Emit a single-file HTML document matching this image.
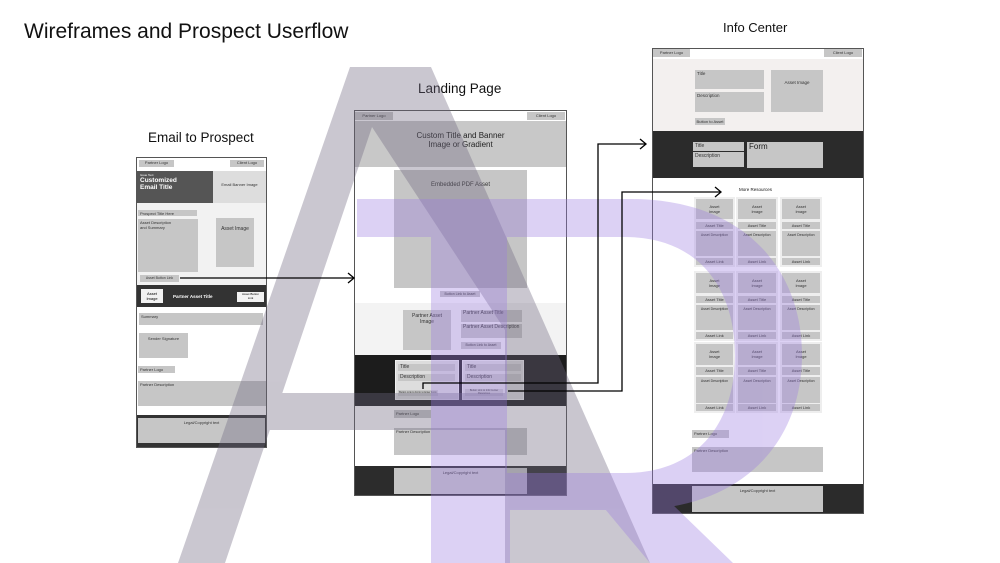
<!DOCTYPE html>
<html><head><meta charset="utf-8"><style>
*{margin:0;padding:0;box-sizing:border-box}
body{width:1000px;height:563px;background:#fff;position:relative;overflow:hidden;font-family:"Liberation Sans",sans-serif}
.a{position:absolute}
.b{position:absolute;background:#c6c6c6;font-size:4px;color:#333;line-height:5px;overflow:hidden}
.c{text-align:center}
.p{padding:1px 2px}
.t{position:absolute;color:#111;white-space:nowrap}
</style></head><body>
<div class="t" style="left:24px;top:20px;font-size:21px">Wireframes and Prospect Userflow</div>
<div class="t" style="left:148px;top:130px;font-size:13.5px">Email to Prospect</div>
<div class="t" style="left:418px;top:81px;font-size:13.5px">Landing Page</div>
<div class="t" style="left:723px;top:20px;font-size:13px">Info Center</div>

<!-- EMAIL -->
<div class="a" style="left:136px;top:157px;width:131px;height:291px;border:1px solid #555;background:#fff"></div>
<div class="b c" style="left:139px;top:160px;width:35px;height:7px">Partner Logo</div>
<div class="b c" style="left:230px;top:160px;width:34px;height:7px">Client Logo</div>
<div class="a" style="left:137px;top:171px;width:76px;height:32px;background:#555;color:#fff;padding:2px 3px"><div style="font-size:3px">Issue Text</div><div style="font-size:6.5px;font-weight:bold;line-height:7px">Customized<br>Email Title</div></div>
<div class="a c" style="left:213px;top:171px;width:53px;height:32px;background:#ddd;font-size:4px;line-height:28px;color:#333">Email Banner Image</div>
<div class="a" style="left:137px;top:203px;width:129px;height:82px;background:#f2f2f2"></div>
<div class="b p" style="left:138px;top:210px;width:59px;height:6px">Prospect Title Here</div>
<div class="b p" style="left:138px;top:219px;width:60px;height:53px">Asset Description<br>and Summary</div>
<div class="b c" style="left:216px;top:218px;width:38px;height:49px;font-size:5px;line-height:22px">Asset Image</div>
<div class="b c" style="left:140px;top:275px;width:39px;height:7px;font-size:3.5px;line-height:7px">Asset Button Link</div>
<div class="a" style="left:137px;top:285px;width:129px;height:22px;background:#333"></div>
<div class="a c" style="left:141px;top:289px;width:22px;height:14px;background:#f2f2f2;font-size:4px;line-height:5px;padding-top:2px">Asset<br>Image</div>
<div class="t" style="left:173px;top:294px;font-size:4.5px;color:#fff;font-weight:bold">Partner Asset Title</div>
<div class="a c" style="left:237px;top:292px;width:27px;height:10px;background:#f2f2f2;font-size:3px;line-height:3.5px;padding-top:1px">Asset Button<br>Link</div>
<div class="b p" style="left:139px;top:313px;width:124px;height:12px">Summary</div>
<div class="b c" style="left:139px;top:333px;width:49px;height:25px;padding-top:3px">Sender Signature</div>
<div class="b p" style="left:138px;top:366px;width:37px;height:7px">Partner Logo</div>
<div class="b p" style="left:138px;top:381px;width:128px;height:25px">Partner Description</div>
<div class="a" style="left:137px;top:415px;width:129px;height:32px;background:#333"></div>
<div class="b c" style="left:138px;top:418px;width:127px;height:25px;padding-top:2px">Legal/Copyright text</div>

<!-- LANDING -->
<div class="a" style="left:354px;top:110px;width:213px;height:386px;border:1px solid #555;background:#fff"></div>
<div class="b c" style="left:355px;top:112px;width:38px;height:8px;line-height:8px">Partner Logo</div>
<div class="b c" style="left:527px;top:112px;width:38px;height:8px;line-height:8px">Client Logo</div>
<div class="a c" style="left:355px;top:121px;width:211px;height:46px;background:#c8c8c8;font-size:8px;line-height:9px;padding-top:10px;color:#222">Custom Title and Banner<br>Image or Gradient</div>
<div class="b c" style="left:394px;top:170px;width:133px;height:118px;font-size:6px;line-height:6px;padding-top:12px">Embedded PDF Asset</div>
<div class="b c" style="left:440px;top:291px;width:40px;height:6px;font-size:3.5px;line-height:6px">Button Link to Asset</div>
<div class="a" style="left:355px;top:303px;width:211px;height:52px;background:#f3f3f3"></div>
<div class="b c" style="left:403px;top:310px;width:48px;height:40px;font-size:5px;line-height:6px;padding-top:3px">Partner Asset<br>Image</div>
<div class="b p" style="left:461px;top:310px;width:61px;height:12px;font-size:5px">Partner Asset Title</div>
<div class="b p" style="left:461px;top:324px;width:61px;height:14px;font-size:5px">Partner Asset Description</div>
<div class="b c" style="left:461px;top:342px;width:40px;height:7px;font-size:3.5px;line-height:7px">Button Link to Asset</div>
<div class="a" style="left:355px;top:355px;width:211px;height:51px;background:#1c1c1c"></div>
<div class="a" style="left:395px;top:360px;width:64px;height:40px;background:#ddd;border:1px solid #f0f0f0"></div>
<div class="a" style="left:462px;top:360px;width:62px;height:40px;background:#ddd;border:1px solid #f0f0f0"></div>
<div class="b p" style="left:398px;top:364px;width:57px;height:7px;font-size:5px;line-height:5px">Title</div>
<div class="b p" style="left:398px;top:374px;width:57px;height:7px;font-size:5px;line-height:5px">Description</div>
<div class="b c" style="left:398px;top:390px;width:40px;height:6px;font-size:2.5px;line-height:6px">Button Link to Form to Enter Form</div>
<div class="b p" style="left:465px;top:364px;width:56px;height:7px;font-size:5px;line-height:5px">Title</div>
<div class="b p" style="left:465px;top:374px;width:56px;height:7px;font-size:5px;line-height:5px">Description</div>
<div class="b c" style="left:465px;top:389px;width:38px;height:7px;font-size:2.5px;line-height:3px">Button Link to Info Center<br>Resources</div>
<div class="b p" style="left:394px;top:410px;width:37px;height:8px">Partner Logo</div>
<div class="b p" style="left:394px;top:428px;width:133px;height:27px">Partner Description</div>
<div class="a" style="left:355px;top:466px;width:211px;height:29px;background:#2c2c2c"></div>
<div class="b c" style="left:394px;top:468px;width:133px;height:26px;padding-top:2px">Legal/Copyright text</div>

<!-- INFO CENTER -->
<div class="a" style="left:652px;top:48px;width:212px;height:466px;border:1px solid #555;background:#fff"></div>
<div class="b c" style="left:653px;top:49px;width:37px;height:8px;line-height:8px">Partner Logo</div>
<div class="b c" style="left:824px;top:49px;width:38px;height:8px;line-height:8px">Client Logo</div>
<div class="a" style="left:653px;top:59px;width:210px;height:72px;background:#f3f0ef"></div>
<div class="b p" style="left:695px;top:70px;width:69px;height:19px;font-size:4.5px">Title</div>
<div class="b p" style="left:695px;top:92px;width:69px;height:20px;font-size:4.5px">Description</div>
<div class="b c" style="left:771px;top:70px;width:52px;height:42px;font-size:4.5px;padding-top:10px">Asset Image</div>
<div class="b c" style="left:695px;top:118px;width:30px;height:7px;line-height:7px">Button to Asset</div>
<div class="a" style="left:653px;top:131px;width:210px;height:47px;background:#2b2b2b"></div>
<div class="b p" style="left:693px;top:142px;width:51px;height:9px;font-size:5px;line-height:6px">Title</div>
<div class="b p" style="left:693px;top:152px;width:51px;height:15px;font-size:5px;line-height:6px">Description</div>
<div class="b p" style="left:747px;top:142px;width:76px;height:26px;font-size:8px;line-height:8px;color:#222">Form</div>
<div class="t" style="left:739px;top:187px;font-size:4.5px">More Resources</div>
<div class="b p" style="left:692px;top:430px;width:37px;height:8px">Partner Logo</div>
<div class="b p" style="left:692px;top:447px;width:131px;height:25px">Partner Description</div>
<div class="a" style="left:653px;top:484px;width:210px;height:29px;background:#2b2b2b"></div>
<div class="b c" style="left:692px;top:486px;width:131px;height:26px;padding-top:2px">Legal/Copyright text</div>

<!-- grid cards -->
<div class="a" style="left:694px;top:197px;width:41px;height:70px;background:#eee"></div>
<div class="a" style="left:736px;top:197px;width:42px;height:70px;background:#eee"></div>
<div class="a" style="left:780px;top:197px;width:42px;height:70px;background:#eee"></div>
<div class="a" style="left:694px;top:271px;width:41px;height:70px;background:#eee"></div>
<div class="a" style="left:736px;top:271px;width:42px;height:70px;background:#eee"></div>
<div class="a" style="left:780px;top:271px;width:42px;height:70px;background:#eee"></div>
<div class="a" style="left:694px;top:342px;width:41px;height:71px;background:#eee"></div>
<div class="a" style="left:736px;top:342px;width:42px;height:71px;background:#eee"></div>
<div class="a" style="left:780px;top:342px;width:42px;height:71px;background:#eee"></div>

<div class="b c" style="left:696px;top:199px;width:37px;height:20px;padding-top:5px">Asset<br>Image</div>
<div class="b c" style="left:738px;top:199px;width:38px;height:20px;padding-top:5px">Asset<br>Image</div>
<div class="b c" style="left:782px;top:199px;width:38px;height:20px;padding-top:5px">Asset<br>Image</div>
<div class="b c" style="left:696px;top:222px;width:37px;height:7px;line-height:7px">Asset Title</div>
<div class="b c" style="left:738px;top:222px;width:38px;height:7px;line-height:7px">Asset Title</div>
<div class="b c" style="left:782px;top:222px;width:38px;height:7px;line-height:7px">Asset Title</div>
<div class="b c" style="left:696px;top:231px;width:37px;height:25px;padding-top:2px;font-size:3.5px">Asset Description</div>
<div class="b c" style="left:738px;top:231px;width:38px;height:25px;padding-top:2px;font-size:3.5px">Asset Description</div>
<div class="b c" style="left:782px;top:231px;width:38px;height:25px;padding-top:2px;font-size:3.5px">Asset Description</div>
<div class="b c" style="left:696px;top:258px;width:37px;height:7px;line-height:7px">Asset Link</div>
<div class="b c" style="left:738px;top:258px;width:38px;height:7px;line-height:7px">Asset Link</div>
<div class="b c" style="left:782px;top:258px;width:38px;height:7px;line-height:7px">Asset Link</div>

<div class="b c" style="left:696px;top:273px;width:37px;height:20px;padding-top:5px">Asset<br>Image</div>
<div class="b c" style="left:738px;top:273px;width:38px;height:20px;padding-top:5px">Asset<br>Image</div>
<div class="b c" style="left:782px;top:273px;width:38px;height:20px;padding-top:5px">Asset<br>Image</div>
<div class="b c" style="left:696px;top:296px;width:37px;height:7px;line-height:7px">Asset Title</div>
<div class="b c" style="left:738px;top:296px;width:38px;height:7px;line-height:7px">Asset Title</div>
<div class="b c" style="left:782px;top:296px;width:38px;height:7px;line-height:7px">Asset Title</div>
<div class="b c" style="left:696px;top:305px;width:37px;height:25px;padding-top:2px;font-size:3.5px">Asset Description</div>
<div class="b c" style="left:738px;top:305px;width:38px;height:25px;padding-top:2px;font-size:3.5px">Asset Description</div>
<div class="b c" style="left:782px;top:305px;width:38px;height:25px;padding-top:2px;font-size:3.5px">Asset Description</div>
<div class="b c" style="left:696px;top:332px;width:37px;height:7px;line-height:7px">Asset Link</div>
<div class="b c" style="left:738px;top:332px;width:38px;height:7px;line-height:7px">Asset Link</div>
<div class="b c" style="left:782px;top:332px;width:38px;height:7px;line-height:7px">Asset Link</div>

<div class="b c" style="left:696px;top:344px;width:37px;height:21px;padding-top:5px">Asset<br>Image</div>
<div class="b c" style="left:738px;top:344px;width:38px;height:21px;padding-top:5px">Asset<br>Image</div>
<div class="b c" style="left:782px;top:344px;width:38px;height:21px;padding-top:5px">Asset<br>Image</div>
<div class="b c" style="left:696px;top:367px;width:37px;height:8px;line-height:8px">Asset Title</div>
<div class="b c" style="left:738px;top:367px;width:38px;height:8px;line-height:8px">Asset Title</div>
<div class="b c" style="left:782px;top:367px;width:38px;height:8px;line-height:8px">Asset Title</div>
<div class="b c" style="left:696px;top:377px;width:37px;height:26px;padding-top:2px;font-size:3.5px">Asset Description</div>
<div class="b c" style="left:738px;top:377px;width:38px;height:26px;padding-top:2px;font-size:3.5px">Asset Description</div>
<div class="b c" style="left:782px;top:377px;width:38px;height:26px;padding-top:2px;font-size:3.5px">Asset Description</div>
<div class="b c" style="left:696px;top:404px;width:37px;height:7px;line-height:7px">Asset Link</div>
<div class="b c" style="left:738px;top:404px;width:38px;height:7px;line-height:7px">Asset Link</div>
<div class="b c" style="left:782px;top:404px;width:38px;height:7px;line-height:7px">Asset Link</div>

<!-- watermark -->
<svg class="a" style="left:0;top:0" width="1000" height="563" viewBox="0 0 1000 563">
<g opacity="0.37" fill="#6e6880">
<path d="M178,563 L350,67 L431,67 L650,563 L505,563 L505,330 L372,127 L225,563 Z"/>
<rect x="240" y="393" width="270" height="37"/>
</g>
<g opacity="0.35" fill="#9b7be0">
<path fill-rule="evenodd" d="M357,199 L630,199 C745,199 802,270 802,355 C802,440 745,510 630,510 L510,510 L510,563 L431,563 L431,237 L357,237 Z M507,237 L625,237 C700,237 735,290 735,355 C735,420 700,473 625,473 L507,473 Z"/>
<path d="M575,473 L640,473 L733,563 L650,563 Z"/>
</g>
</svg>

<!-- arrows -->
<svg class="a" style="left:0;top:0" width="1000" height="563" viewBox="0 0 1000 563" fill="none" stroke="#000" stroke-width="1.3">
<path d="M180,278 H353"/><path d="M348,273 L354,278 L348,283"/>
<path d="M423,389 V383 H598 V144 H645"/><path d="M640,139 L646,144 L640,149"/>
<path d="M508,391 H622 V192 H720"/><path d="M715,187 L721,192 L715,197"/>
</svg>
</body></html>
